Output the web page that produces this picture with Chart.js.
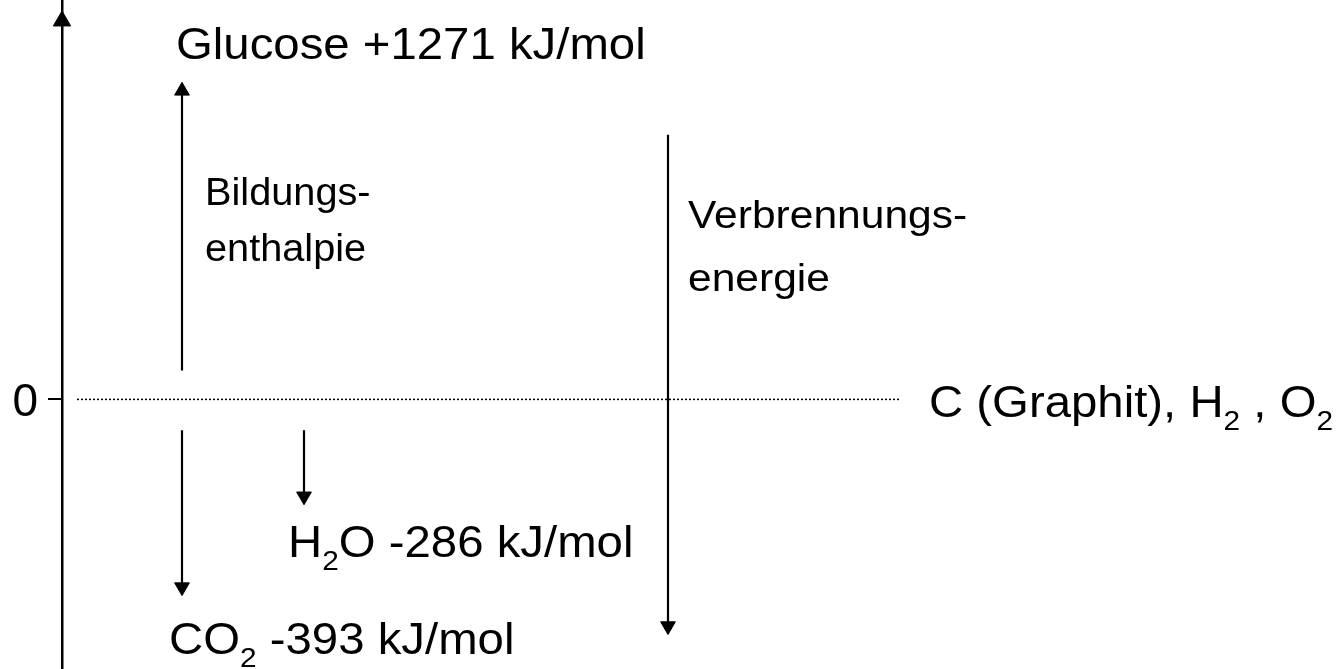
<!DOCTYPE html>
<html>
<head>
<meta charset="utf-8">
<script src="https://cdn.jsdelivr.net/npm/chart.js@4"></script>
<style>
  html, body { margin: 0; padding: 0; background: #fff; }
  #wrap { width: 1342px; height: 669px; position: relative; }
</style>
</head>
<body>
<div id="wrap"><canvas id="chart"></canvas></div>
<script>
// enthalpy levels in kJ/mol, "_2" marks a subscript
const levelNames = ['Glucose', 'C (Graphit), H_2 , O_2', 'H_2O', 'CO_2'];
const levelEnthalpy = [1271, 0, -286, -393];
// schematic height of each level label (the diagram is not to scale)
const levelHeight = [35.7, -0.1, -14.2, -23.9];

// arrows in schematic units: x, start, end (end = arrowhead)
const arrowX = [12.0, 12.0, 24.2, 60.6];
const arrowFrom = [2.9, -3.1, -3.1, 26.5];
const arrowTo = [30.9, -18.8, -9.7, -22.7];

const arrowText = [['Bildungs-', 'enthalpie'], ['Verbrennungs-', 'energie']];
const arrowTextHeight = [[20.8, 15.2], [18.5, 12.2]];

const yTicks = [0];
const axisTop = 37.9;
const zeroLine = [1.5, 83.8];

const FONT = 'Liberation Sans';
Chart.defaults.font.family = FONT;

function split(str) {
  // "H_2O" -> [["H",false],["2",true],["O",false]]
  const out = [];
  let buf = '';
  for (let i = 0; i < str.length; i++) {
    if (str[i] === '_') {
      if (buf) out.push([buf, false]);
      buf = '';
      out.push([str[i + 1], true]);
      i++;
    } else buf += str[i];
  }
  if (buf) out.push([buf, false]);
  return out;
}

function levelLabel(i) {
  const v = levelEnthalpy[i];
  if (v === 0) return levelNames[i];
  return levelNames[i] + ' ' + (v > 0 ? '+' : '') + v + ' kJ/mol';
}

const labelX = [11.4, 86.7, 22.6, 10.7];
const textX = [14.3, 62.6];
const textStretch = [1.045, 1.12];

const labelsPlugin = {
  id: 'labels',
  afterDatasetsDraw(chart) {
    const ctx = chart.ctx;
    const xs = chart.scales.x, ys = chart.scales.y;
    ctx.fillStyle = '#000';
    const draw = (str, x, y, size, stretch) => {
      const x0 = xs.getPixelForValue(x);
      const base = ys.getPixelForValue(y) + size * 0.36;
      ctx.save();
      ctx.textAlign = 'left';
      ctx.textBaseline = 'alphabetic';
      ctx.translate(x0, base);
      ctx.scale(stretch, 1);
      let px = 0;
      split(str).forEach(([t, sub]) => {
        const s = sub ? size * 0.63 : size;
        ctx.font = s + 'px "' + FONT + '"';
        ctx.fillText(t, px, sub ? size * 0.29 : 0);
        px += ctx.measureText(t).width;
      });
      ctx.restore();
    };
    levelNames.forEach((n, i) => draw(levelLabel(i), labelX[i], levelHeight[i], 45, 1.052));
    arrowText.forEach((lines, i) => {
      lines.forEach((l, j) => draw(l, textX[i], arrowTextHeight[i][j], 38, textStretch[i]));
    });
  }
};

const datasets = arrowX.map((x, i) => ({
  data: [{ x: x, y: arrowFrom[i] }, { x: x, y: arrowTo[i] }],
  showLine: true,
  borderColor: '#000',
  borderWidth: 2.2,
  pointRadius: [0, 8.5],
  pointStyle: 'triangle',
  rotation: [0, arrowTo[i] > arrowFrom[i] ? 0 : 180],
  pointBackgroundColor: '#000',
  pointBorderColor: '#000',
  pointBorderWidth: 1
}));

// dotted zero level
datasets.push({
  data: [{ x: zeroLine[0], y: 0 }, { x: zeroLine[1], y: 0 }],
  showLine: true,
  borderColor: '#000',
  borderWidth: 1.5,
  borderDash: [2, 2],
  pointRadius: 0
});

// arrowhead of the energy axis
datasets.push({
  data: [{ x: 0, y: axisTop }],
  pointRadius: 10,
  pointStyle: 'triangle',
  pointBackgroundColor: '#000',
  pointBorderColor: '#000',
  pointBorderWidth: 1,
  clip: false
});

new Chart(document.getElementById('chart'), {
  type: 'scatter',
  data: { datasets: datasets },
  options: {
    responsive: true,
    maintainAspectRatio: false,
    animation: false,
    events: [],
    layout: { padding: 0, autoPadding: false },
    plugins: { legend: { display: false }, tooltip: { enabled: false } },
    scales: {
      x: { type: 'linear', min: 0, max: 128, display: false },
      y: {
        type: 'linear', min: -27, max: 40,
        afterBuildTicks: s => { s.ticks = yTicks.map(v => ({ value: v })); },
        afterFit: s => {
          s.width = 62;
          s.paddingTop = 0;
          s.paddingBottom = 0;
        },
        border: { display: true, color: '#000', width: 2.5 },
        grid: { drawOnChartArea: false, drawTicks: true, tickLength: 14, color: '#000', lineWidth: 2 },
        ticks: { color: '#000', padding: 10, labelOffset: 4, font: { family: FONT, size: 46 } }
      }
    }
  },
  plugins: [labelsPlugin]
});
</script>
</body>
</html>
